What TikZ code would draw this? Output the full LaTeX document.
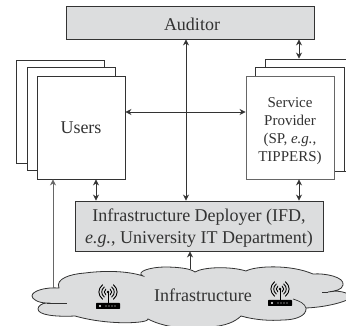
\documentclass[tikz,border=0pt]{standalone}
\usepackage{fontspec}
\setmainfont{Liberation Serif}
\usetikzlibrary{arrows.meta}
\definecolor{ink}{HTML}{333333}
\definecolor{softink}{HTML}{666666}
\definecolor{boxgray}{HTML}{DCDDDE}
\tikzset{
  card/.style={draw=ink,fill=white,line width=0.9pt,inner sep=0pt,minimum width=88pt,minimum height=103pt,text=ink},
  greybox/.style={draw=ink,fill=boxgray,line width=0.9pt,inner sep=0pt,text=ink},
  link/.style={draw=ink,line width=0.8pt,arrows={-{Stealth[length=6pt,width=6pt,inset=2pt]}}},
  dlink/.style={draw=ink,line width=0.8pt,arrows={{Stealth[length=6pt,width=6pt,inset=2pt]}-{Stealth[length=6pt,width=6pt,inset=2pt]}}},
  label/.style={text=ink,font=\fontsize{18}{22}\selectfont,inner sep=0pt,anchor=base},
  small/.style={text=ink,font=\fontsize{15}{18}\selectfont,inner sep=0pt,anchor=base},
  radio/.style={draw=black,line width=0.9pt,line cap=round},
}
\newcommand{\routerat}[2]{%
  \begin{scope}[shift={(#1,#2)}]
    \fill[black,rounded corners=0.6pt] (-12,0) rectangle (12,6);
    \fill[white] (-8,3) circle (1.1pt);
    \foreach \px in {-2,1,4,7} \fill[white] (\px,3) circle (0.6pt);
    \draw[radio] (0,0) -- (0,-11);
    \fill[black] (0,-11) circle (1.3pt);
    \foreach \r in {3.6,6.2,9} {
      \draw[radio] ({0.6*\r},{-11-0.8*\r}) .. controls ({1.15*\r},{-11-0.35*\r}) and ({1.15*\r},{-11+0.35*\r}) .. ({0.6*\r},{-11+0.8*\r});
      \draw[radio] ({-0.6*\r},{-11-0.8*\r}) .. controls ({-1.15*\r},{-11-0.35*\r}) and ({-1.15*\r},{-11+0.35*\r}) .. ({-0.6*\r},{-11+0.8*\r});
    }
  \end{scope}}
\begin{document}
\begin{tikzpicture}[x=1pt,y=-1pt]
\useasboundingbox (0,0) rectangle (346,326);
\clip (0,0) rectangle (346,326);
% cloud
\path[fill=boxgray,draw=ink,line width=0.8pt] (59,288)
  .. controls (55,279) and (70,274) .. (85,273)
  .. controls (100,271) and (125,270) .. (143,276)
  .. controls (135,272) and (150,267) .. (165,267)
  .. controls (175,267) and (190,268) .. (195,272)
  .. controls (203,267) and (230,266) .. (246,271)
  .. controls (255,266) and (290,264) .. (313,274)
  .. controls (325,273) and (345,277) .. (343,285)
  .. controls (342,290) and (335,291) .. (328,292)
  .. controls (335,291) and (342,290) .. (352,296)
  .. controls (352,300) and (330,307) .. (306,308)
  .. controls (307,316) and (295,320) .. (283,320)
  .. controls (270,321) and (255,320) .. (241,316)
  .. controls (235,322) and (225,326) .. (210,327)
  .. controls (190,330) and (165,328) .. (148,319)
  .. controls (150,323) and (110,326) .. (75,316)
  .. controls (55,317) and (38,315) .. (38,309)
  .. controls (38,306) and (42,303) .. (47,303)
  .. controls (38,303) and (32,299) .. (32,296)
  .. controls (32,291) and (45,287) .. (59,288) -- cycle;
\draw[ink,line width=0.7pt] (47,303) -- (67,303);
\draw[ink,line width=0.7pt] (293,299) .. controls (300,301) and (305,304) .. (306,308);
\draw[ink,line width=0.7pt] (328,292) -- (322,292);
% stacked cards
\node[card] (uback) at (60,111.5) {};
\node[card] (umid) at (71,118.5) {};
\node[card] (users) at (81,127.5) {};
\node[card] (spback) at (309,115) [minimum height=112pt] {};
\node[card] (spmid) at (299.5,119) [minimum width=89pt,minimum height=104pt] {};
\node[card,draw=softink] (sp) at (290,127.5) {};
% grey boxes
\node[greybox,minimum width=248pt,minimum height=33pt] (auditor) at (190,22.5) {};
\node[greybox,minimum width=248pt,minimum height=50pt] (ifd) at (199,226) {};
% text
\node[label] (tusers) at (81,134) {Users};
\node[label] (taud) at (192,31) {Auditor};
\node[small] (s1) at (290,108) {Service};
\node[small] (s2) at (290,126) {Provider};
\node[small] (s3) at (290,144) {(SP, \textit{e.g.},};
\node[small] (s4) at (290,162) {TIPPERS)};
\node[label] (i1) at (199,222) {Infrastructure Deployer (IFD,};
\node[label] (i2) at (199,244) {\textit{e.g.}, University IT Department)};
\node[label] (tinf) at (203,302) {Infrastructure};
% routers
\routerat{108}{303}
\routerat{280}{300}
% connector helpers
\coordinate (xA) at (186,100);
\coordinate (xB) at (299,100);
\coordinate (xC) at (96,100);
\coordinate (xD) at (53,100);
\coordinate (xE) at (190,100);
\coordinate (yH) at (100,112);
\coordinate (cloudL) at (53,288);
\coordinate (cloudT) at (190,269);
% connectors
\draw[dlink] (ifd.north -| xA) -- (auditor.south -| xA);
\draw[dlink] (users.east |- yH) -- (sp.west |- yH);
\draw[dlink] (auditor.south -| xB) -- (spback.north -| xB);
\draw[dlink] (users.south -| xC) -- (ifd.north -| xC);
\draw[dlink] (sp.south -| xB) -- (ifd.north -| xB);
\draw[link,draw=softink] (cloudL) -- (users.south -| xD);
\draw[link] (cloudT) -- (ifd.south -| xE);
\end{tikzpicture}
\end{document}
